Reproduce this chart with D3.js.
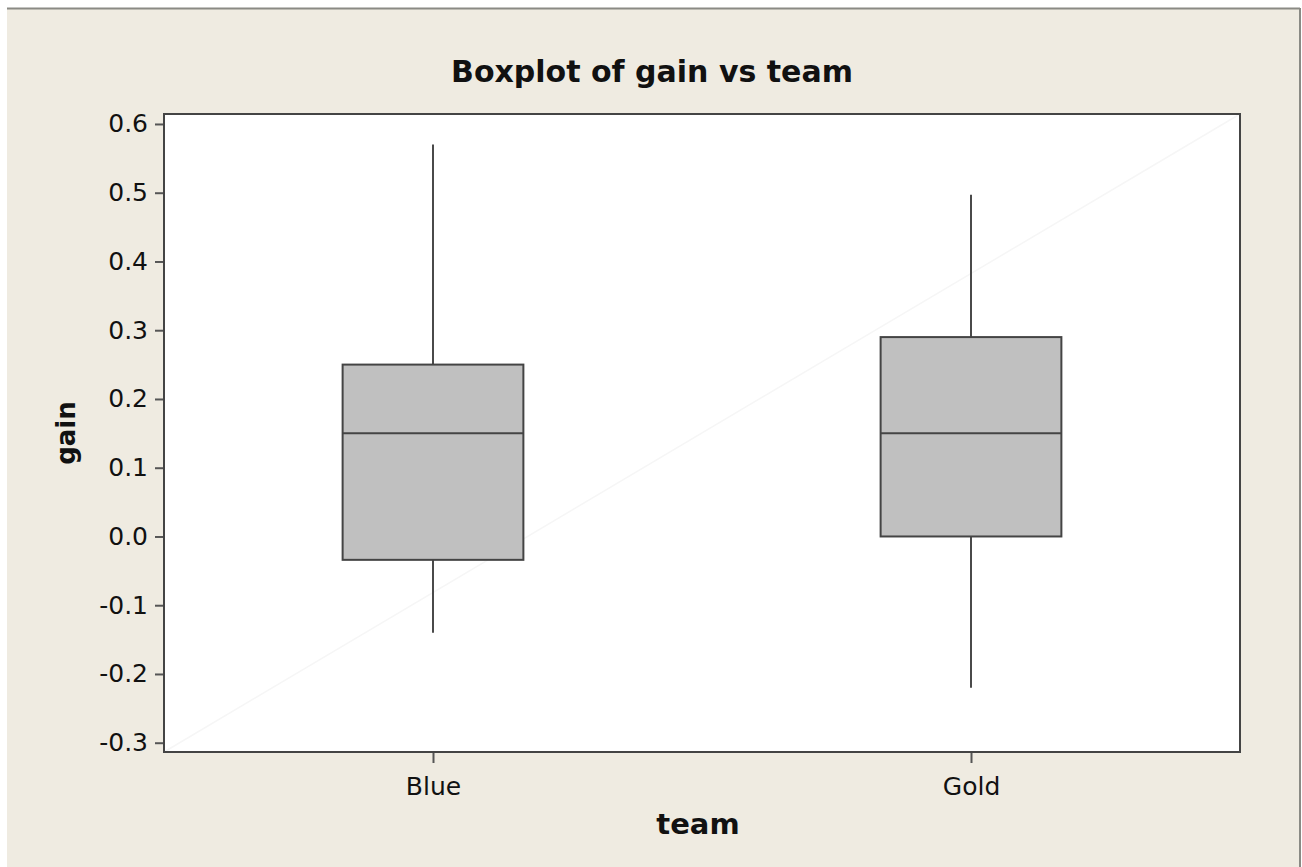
<!DOCTYPE html>
<html>
<head>
<meta charset="utf-8">
<script src="https://cdn.jsdelivr.net/npm/d3@7"></script>
<style>
  html, body { margin: 0; padding: 0; background: #ffffff; }
  svg { display: block; }
</style>
</head>
<body>
<svg id="chart" width="1302" height="867"></svg>
<script>
// ---- data ----
const teams = ["Blue", "Gold"];
const whiskerLow  = [-0.14, -0.22];
const q1          = [-0.034, 0.0];
const median      = [0.15, 0.15];
const q3          = [0.25, 0.29];
const whiskerHigh = [0.57, 0.497];
const yTicks = [-0.3, -0.2, -0.1, 0.0, 0.1, 0.2, 0.3, 0.4, 0.5, 0.6];

const W = 1302, H = 867;
const svg = d3.select("#chart");
const font = "'DejaVu Sans', Verdana, sans-serif";

// background panel
svg.append("rect").attr("x", 0).attr("y", 0).attr("width", W).attr("height", H).attr("fill", "#ffffff");
svg.append("rect").attr("x", 7).attr("y", 8).attr("width", 1292).attr("height", H - 8).attr("fill", "#EFEBE1");
svg.append("line").attr("x1", 7).attr("x2", 1300).attr("y1", 8.5).attr("y2", 8.5).attr("stroke", "#8a8a84").attr("stroke-width", 2);
svg.append("line").attr("x1", 1300).attr("x2", 1300).attr("y1", 8).attr("y2", H).attr("stroke", "#8a8a84").attr("stroke-width", 2);

const plot = { left: 164, right: 1240, top: 114, bottom: 752 };

const y = d3.scaleLinear().domain([-0.3135, 0.6145]).range([plot.bottom, plot.top]);
const x = d3.scalePoint().domain(teams).range([plot.left, plot.right]).padding(0.5);

// plot area
svg.append("rect")
  .attr("x", plot.left).attr("y", plot.top)
  .attr("width", plot.right - plot.left).attr("height", plot.bottom - plot.top)
  .attr("fill", "#ffffff");

// faint diagonal artifact
svg.append("line")
  .attr("x1", x.range()[0]).attr("y1", y.range()[0])
  .attr("x2", x.range()[1]).attr("y2", y.range()[1])
  .attr("stroke", "#f6f6f6").attr("stroke-width", 1.5);

// axes
const fmt = v => d3.format(".1f")(v).replace("\u2212", "-");
const yAxis = d3.axisLeft(y).tickValues(yTicks).tickFormat(fmt).tickSize(9).tickPadding(7);
const gy = svg.append("g").attr("transform", `translate(${plot.left},0)`).call(yAxis);
gy.select(".domain").remove();
gy.selectAll(".tick line").attr("stroke", "#555").attr("stroke-width", 2);
gy.selectAll(".tick text").attr("font-family", font).attr("font-size", 25).attr("fill", "#111");

const xAxis = d3.axisBottom(x).tickSize(11).tickPadding(14);
const gx = svg.append("g").attr("transform", `translate(0,${plot.bottom})`).call(xAxis);
gx.select(".domain").remove();
gx.selectAll(".tick line").attr("stroke", "#555").attr("stroke-width", 2);
gx.selectAll(".tick text").attr("font-family", font).attr("font-size", 25).attr("fill", "#111");

// boxes
const boxW = x.step() * 0.336;
const data = teams.map((t, i) => ({ t, lo: whiskerLow[i], q1: q1[i], med: median[i], q3: q3[i], hi: whiskerHigh[i] }));
const g = svg.append("g");
data.forEach(d => {
  const cx = x(d.t);
  g.append("line").attr("x1", cx).attr("x2", cx).attr("y1", y(d.hi)).attr("y2", y(d.q3))
    .attr("stroke", "#4a4a4a").attr("stroke-width", 2);
  g.append("line").attr("x1", cx).attr("x2", cx).attr("y1", y(d.q1)).attr("y2", y(d.lo))
    .attr("stroke", "#4a4a4a").attr("stroke-width", 2);
  g.append("rect").attr("x", cx - boxW / 2).attr("y", y(d.q3))
    .attr("width", boxW).attr("height", y(d.q1) - y(d.q3))
    .attr("fill", "#C0C0C0").attr("stroke", "#444").attr("stroke-width", 2);
  g.append("line").attr("x1", cx - boxW / 2).attr("x2", cx + boxW / 2).attr("y1", y(d.med)).attr("y2", y(d.med))
    .attr("stroke", "#444").attr("stroke-width", 2);
});

// plot frame
svg.append("rect")
  .attr("x", plot.left).attr("y", plot.top)
  .attr("width", plot.right - plot.left).attr("height", plot.bottom - plot.top)
  .attr("fill", "none").attr("stroke", "#444").attr("stroke-width", 2);

// titles
svg.append("text").attr("x", 652).attr("y", 82)
  .attr("text-anchor", "middle").attr("font-family", font).attr("font-weight", "bold")
  .attr("font-size", 30).attr("fill", "#111").text("Boxplot of gain vs team");

svg.append("text").attr("x", 698).attr("y", 834)
  .attr("text-anchor", "middle").attr("font-family", font).attr("font-weight", "bold")
  .attr("font-size", 29).attr("fill", "#111").text("team");

svg.append("text").attr("transform", `translate(75,${(plot.top + plot.bottom) / 2}) rotate(-90)`)
  .attr("text-anchor", "middle").attr("font-family", font).attr("font-weight", "bold")
  .attr("font-size", 26).attr("fill", "#111").text("gain");
</script>
</body>
</html>
